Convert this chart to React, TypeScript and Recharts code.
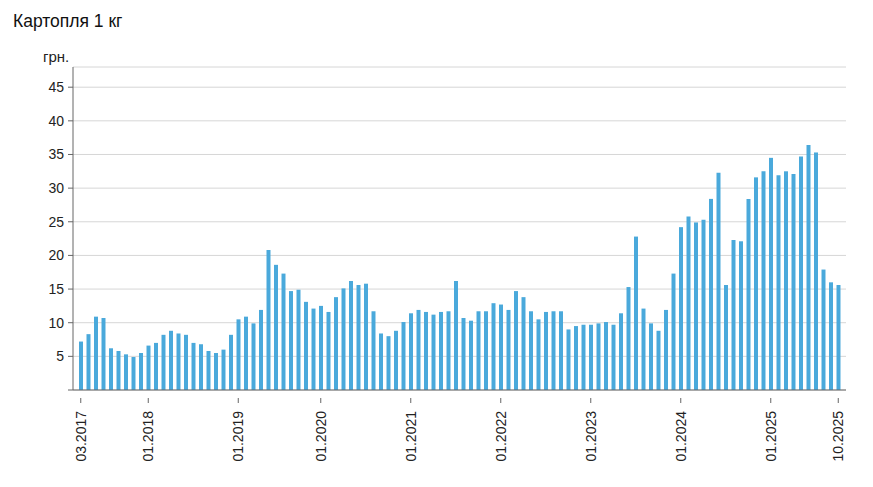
import { BarChart, Bar, XAxis, YAxis, CartesianGrid } from "recharts";

// ціни по роках (місяці, за які даних немає, пропущені)
const months2017 = ["03", "04", "05", "06", "07", "08", "09", "10", "11"];
const prices2017 = [7.2, 8.3, 10.9, 10.7, 6.2, 5.8, 5.3, 4.9, 5.5];
const months2018 = ["01", "02", "03", "04", "05", "06", "07", "08", "09", "10", "11", "12"];
const prices2018 = [6.6, 7.0, 8.2, 8.8, 8.4, 8.2, 7.0, 6.8, 5.8, 5.5, 6.0, 8.2];
const months2019 = ["01", "02", "03", "04", "05", "06", "07", "08", "09", "10", "11"];
const prices2019 = [10.5, 10.9, 9.9, 11.9, 20.8, 18.6, 17.3, 14.7, 14.9, 13.1, 12.1];
const prices2020 = [12.5, 11.6, 13.8, 15.1, 16.2, 15.6, 15.8, 11.7, 8.4, 8.0, 8.8, 10.1];
const prices2021 = [11.4, 11.9, 11.6, 11.2, 11.6, 11.7, 16.2, 10.7, 10.3, 11.7, 11.7, 12.9];
const prices2022 = [12.7, 11.9, 14.7, 13.8, 11.7, 10.5, 11.6, 11.7, 11.7, 9.0, 9.5, 9.7];
const prices2023 = [9.7, 9.9, 10.1, 9.7, 11.4, 15.3, 22.8, 12.1, 9.9, 8.8, 11.9, 17.3];
const prices2024 = [24.2, 25.8, 24.9, 25.3, 28.4, 32.3, 15.6, 22.3, 22.1, 28.4, 31.6, 32.5];
const months2025 = ["01", "02", "03", "04", "05", "06", "07", "08", "09", "10"];
const prices2025 = [34.5, 31.9, 32.5, 32.1, 34.7, 36.4, 35.3, 17.9, 16.0, 15.6];

const tickLabels = [
  "03.2017", "01.2018", "01.2019", "01.2020", "01.2021",
  "01.2022", "01.2023", "01.2024", "01.2025", "10.2025",
];
const yTicks = [0, 5, 10, 15, 20, 25, 30, 35, 40, 45];

const years: [string, string[], number[]][] = [
  ["2017", months2017, prices2017],
  ["2018", months2018, prices2018],
  ["2019", months2019, prices2019],
  ["2020", months2018, prices2020],
  ["2021", months2018, prices2021],
  ["2022", months2018, prices2022],
  ["2023", months2018, prices2023],
  ["2024", months2018, prices2024],
  ["2025", months2025, prices2025],
];

const data = years.flatMap(([y, ms, vals]) =>
  vals.map((v, i) => ({ month: ms[i] + "." + y, price: v }))
);

const FONT = "'Liberation Sans', Arial, sans-serif";

function MonthTick({ x, y, payload }: any) {
  if (!tickLabels.includes(payload.value)) return null;
  return (
    <g>
      <line x1={x} x2={x} y1={y} y2={y + 5} stroke="#666" />
      <text
        x={0}
        y={0}
        transform={`translate(${x + 5},${y + 13}) rotate(-90)`}
        textAnchor="end"
        fontSize={14}
        fontFamily={FONT}
        fill="#222"
      >
        {payload.value}
      </text>
    </g>
  );
}

export default function App() {
  return (
    <div style={{ position: "absolute", left: 0, top: 0, width: 873, height: 487, background: "#fff" }}>
      <svg width={873} height={487} style={{ position: "absolute", left: 0, top: 0 }}>
        <text x={13} y={27} fontSize={17.5} fontFamily={FONT} fill="#111">
          Картопля 1 кг
        </text>
        <text x={43} y={62} fontSize={15} fontFamily={FONT} fill="#222">
          грн.
        </text>
      </svg>
      <div style={{ position: "absolute", left: 0, top: 0 }}>
        <BarChart
          width={873}
          height={487}
          data={data}
          margin={{ top: 67, right: 27, bottom: 37, left: 0 }}
        >
          <CartesianGrid vertical={false} stroke="#d6d6d6" />
          <XAxis
            dataKey="month"
            interval={0}
            tickLine={false}
            tick={<MonthTick />}
            axisLine={{ stroke: "#666" }}
            height={60}
            padding={{ left: 4, right: 4 }}
          />
          <YAxis
            domain={[0, 48]}
            ticks={yTicks}
            width={73}
            tickSize={5}
            tickMargin={4}
            tickFormatter={(v: number) => (v === 0 ? "" : String(v))}
            axisLine={{ stroke: "#666" }}
            tickLine={{ stroke: "#666" }}
            tick={{ fontSize: 14, fontFamily: FONT, fill: "#222" }}
          />
          <Bar dataKey="price" fill="#4aa9db" barSize={4} isAnimationActive={false} />
        </BarChart>
      </div>
    </div>
  );
}
